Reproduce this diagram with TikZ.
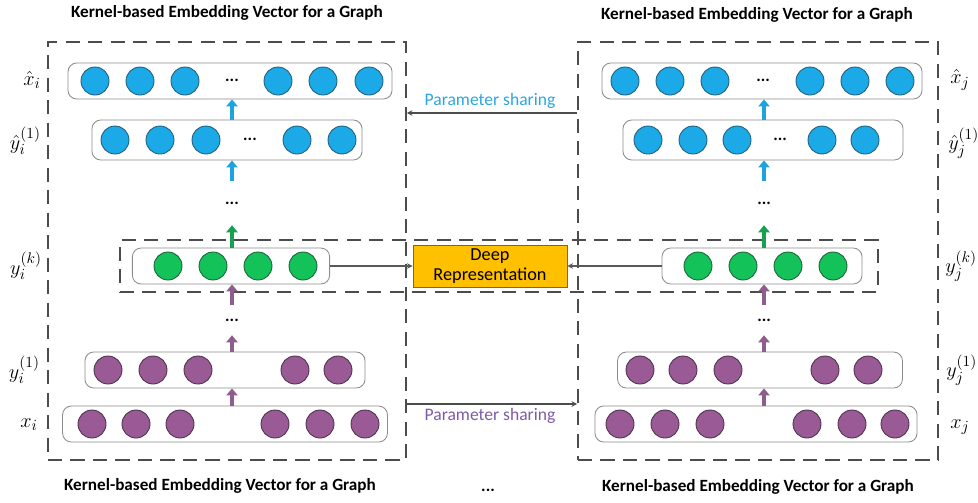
\documentclass[tikz,border=0pt]{standalone}
\usepackage[no-math]{fontspec}
\setmainfont{Carlito}
\usepackage{tikz}
\usetikzlibrary{arrows.meta}

\definecolor{nodeblue}{HTML}{1BA9E8}
\definecolor{lineblue}{HTML}{235C78}
\definecolor{nodegreen}{HTML}{14C25A}
\definecolor{linegreen}{HTML}{1E5E36}
\definecolor{nodepurple}{HTML}{9A5A96}
\definecolor{linepurple}{HTML}{4A3049}
\definecolor{arrowblue}{HTML}{1DA3E0}
\definecolor{arrowgreen}{HTML}{16A050}
\definecolor{arrowpurple}{HTML}{8E5D8C}
\definecolor{deeporange}{HTML}{FFC000}
\definecolor{sharepurple}{HTML}{7D5BA8}
\definecolor{shareblue}{HTML}{2CA6E0}

\begin{document}
\begin{tikzpicture}[x=0.025cm, y=-0.025cm,
    neuron/.style={circle, draw, line width=0.6pt, minimum size=0.7cm, inner sep=0pt},
    blueneuron/.style={neuron, fill=nodeblue, draw=lineblue},
    greenneuron/.style={neuron, fill=nodegreen, draw=linegreen},
    purpleneuron/.style={neuron, fill=nodepurple, draw=linepurple},
    rowbox/.style={rectangle, rounded corners=0.22cm, draw=black!45, fill=white, line width=0.6pt, minimum height=0.9cm, inner sep=0pt},
    graphbox/.style={rectangle, draw=black!70, line width=1.1pt, dash pattern=on 10pt off 6pt, inner sep=0pt},
    dotsnode/.style={inner sep=0pt, font=\bfseries\large},
    veclabel/.style={inner sep=0pt, font=\fontsize{15}{17}\selectfont},
    titletext/.style={font=\fontsize{12.2}{14}\selectfont\bfseries},
    uparrow/.style={line width=2.4pt, -{Triangle[width=8pt,length=5pt]}},
    sharearrow/.style={draw=black!70, line width=1.2pt, -{Stealth[length=4pt,width=4pt]}},
    deepline/.style={draw=black!65, line width=1.4pt, -{Stealth[length=4pt,width=4pt]}}
  ]
    \useasboundingbox (0,0) rectangle (978,502);

    % dashed boxes
    \node[graphbox, minimum width=8.95cm, minimum height=10.45cm] (box_i) at (227,251) {};
    \node[graphbox, minimum width=9cm, minimum height=10.45cm] (box_j) at (758,251) {};
    \node[graphbox, minimum width=18.95cm, minimum height=1.3cm] (box_deep) at (499,266) {};

    \node[titletext] (title_i_top) at (227,13) {Kernel-based Embedding Vector for a Graph};
    \node[titletext] (title_j_top) at (757,15) {Kernel-based Embedding Vector for a Graph};
    \node[titletext] (title_i_bot) at (220,486) {Kernel-based Embedding Vector for a Graph};
    \node[titletext] (title_j_bot) at (758,487) {Kernel-based Embedding Vector for a Graph};
    \node[dotsnode] (more_graphs) at (488,490) {...};

    % left graph
    \node[rowbox, minimum width=8.1cm] (xhat_i_row) at (230,81) {};
    \node[rowbox, minimum width=6.75cm, minimum height=1cm] (yhat_i_row) at (227,140) {};
    \node[rowbox, minimum width=4.93cm] (yk_i_row) at (231,266) {};
    \node[rowbox, minimum width=7cm] (y1_i_row) at (225,370) {};
    \node[rowbox, minimum width=8.12cm] (x_i_row) at (225,424) {};

    \node[blueneuron] (xhat_i_1) at (95,81) {};
    \node[blueneuron] (xhat_i_2) at (140,81) {};
    \node[blueneuron] (xhat_i_3) at (185,81) {};
    \node[dotsnode] (xhat_i_dots) at (232,80) {...};
    \node[blueneuron] (xhat_i_4) at (278,81) {};
    \node[blueneuron] (xhat_i_5) at (323,81) {};
    \node[blueneuron] (xhat_i_6) at (369,81) {};

    \node[blueneuron] (yhat_i_1) at (115,140) {};
    \node[blueneuron] (yhat_i_2) at (160,140) {};
    \node[blueneuron] (yhat_i_3) at (206,140) {};
    \node[dotsnode] (yhat_i_dots) at (250,139) {...};
    \node[blueneuron] (yhat_i_4) at (297,140) {};
    \node[blueneuron] (yhat_i_5) at (342,140) {};

    \node[greenneuron] (yk_i_1) at (168,266) {};
    \node[greenneuron] (yk_i_2) at (213,266) {};
    \node[greenneuron] (yk_i_3) at (258,266) {};
    \node[greenneuron] (yk_i_4) at (303,266) {};

    \node[purpleneuron] (y1_i_1) at (108,370) {};
    \node[purpleneuron] (y1_i_2) at (153,370) {};
    \node[purpleneuron] (y1_i_3) at (198,370) {};
    \node[purpleneuron] (y1_i_4) at (295,370) {};
    \node[purpleneuron] (y1_i_5) at (338,370) {};

    \node[purpleneuron] (x_i_1) at (92,424) {};
    \node[purpleneuron] (x_i_2) at (136,424) {};
    \node[purpleneuron] (x_i_3) at (180,424) {};
    \node[purpleneuron] (x_i_4) at (275,424) {};
    \node[purpleneuron] (x_i_5) at (320,424) {};
    \node[purpleneuron] (x_i_6) at (365,424) {};

    \node[dotsnode, minimum height=1.1cm] (dots_i_a) at (232,203) {...};
    \node[dotsnode, minimum height=0.75cm] (dots_i_b) at (232,320) {...};

    \node[veclabel, anchor=east] (xhat_i_label) at (41,80) {$\hat{x}_i$};
    \node[veclabel, anchor=east] (yhat_i_label) at (41,141) {$\hat{y}_i^{(1)}$};
    \node[veclabel, anchor=east] (yk_i_label) at (42,266) {$y_i^{(k)}$};
    \node[veclabel, anchor=east] (y1_i_label) at (40,370) {$y_i^{(1)}$};
    \node[veclabel, anchor=east] (x_i_label) at (38,425) {$x_i$};

    \draw[uparrow, arrowpurple] (x_i_row.north -| dots_i_b) -- (y1_i_row.south -| dots_i_b);
    \draw[uparrow, arrowpurple] (y1_i_row.north -| dots_i_b) -- (dots_i_b.south);
    \draw[uparrow, arrowpurple] (dots_i_b.north) -- (yk_i_row.south -| dots_i_b);
    \draw[uparrow, arrowgreen] (yk_i_row.north -| dots_i_a) -- (dots_i_a.south);
    \draw[uparrow, arrowblue] (dots_i_a.north) -- (yhat_i_row.south -| dots_i_a);
    \draw[uparrow, arrowblue] (yhat_i_row.north -| dots_i_a) -- (xhat_i_row.south -| dots_i_a);

    % right graph
    \node[rowbox, minimum width=8cm] (xhat_j_row) at (762,81) {};
    \node[rowbox, minimum width=7cm, minimum height=1cm] (yhat_j_row) at (763,140) {};
    \node[rowbox, minimum width=5cm] (yk_j_row) at (762,266) {};
    \node[rowbox, minimum width=7.12cm] (y1_j_row) at (760,370) {};
    \node[rowbox, minimum width=8.05cm] (x_j_row) at (756,424) {};

    \node[blueneuron] (xhat_j_1) at (625,81) {};
    \node[blueneuron] (xhat_j_2) at (670,81) {};
    \node[blueneuron] (xhat_j_3) at (715,81) {};
    \node[dotsnode] (xhat_j_dots) at (763,80) {...};
    \node[blueneuron] (xhat_j_4) at (810,81) {};
    \node[blueneuron] (xhat_j_5) at (855,81) {};
    \node[blueneuron] (xhat_j_6) at (900,81) {};

    \node[blueneuron] (yhat_j_1) at (648,140) {};
    \node[blueneuron] (yhat_j_2) at (693,140) {};
    \node[blueneuron] (yhat_j_3) at (737,140) {};
    \node[dotsnode] (yhat_j_dots) at (780,139) {...};
    \node[blueneuron] (yhat_j_4) at (822,140) {};
    \node[blueneuron] (yhat_j_5) at (865,140) {};

    \node[greenneuron] (yk_j_1) at (698,266) {};
    \node[greenneuron] (yk_j_2) at (743,266) {};
    \node[greenneuron] (yk_j_3) at (788,266) {};
    \node[greenneuron] (yk_j_4) at (833,266) {};

    \node[purpleneuron] (y1_j_1) at (640,370) {};
    \node[purpleneuron] (y1_j_2) at (683,370) {};
    \node[purpleneuron] (y1_j_3) at (728,370) {};
    \node[purpleneuron] (y1_j_4) at (825,370) {};
    \node[purpleneuron] (y1_j_5) at (868,370) {};

    \node[purpleneuron] (x_j_1) at (620,424) {};
    \node[purpleneuron] (x_j_2) at (665,424) {};
    \node[purpleneuron] (x_j_3) at (710,424) {};
    \node[purpleneuron] (x_j_4) at (807,424) {};
    \node[purpleneuron] (x_j_5) at (852,424) {};
    \node[purpleneuron] (x_j_6) at (895,424) {};

    \node[dotsnode, minimum height=1.1cm] (dots_j_a) at (764,203) {...};
    \node[dotsnode, minimum height=0.75cm] (dots_j_b) at (764,320) {...};

    \node[veclabel, anchor=west] (xhat_j_label) at (950,80) {$\hat{x}_j$};
    \node[veclabel, anchor=west] (yhat_j_label) at (948,143) {$\hat{y}_j^{(1)}$};
    \node[veclabel, anchor=west] (yk_j_label) at (945,266) {$y_j^{(k)}$};
    \node[veclabel, anchor=west] (y1_j_label) at (946,370) {$y_j^{(1)}$};
    \node[veclabel, anchor=west] (x_j_label) at (950,427) {$x_j$};

    \draw[uparrow, arrowpurple] (x_j_row.north -| dots_j_b) -- (y1_j_row.south -| dots_j_b);
    \draw[uparrow, arrowpurple] (y1_j_row.north -| dots_j_b) -- (dots_j_b.south);
    \draw[uparrow, arrowpurple] (dots_j_b.north) -- (yk_j_row.south -| dots_j_b);
    \draw[uparrow, arrowgreen] (yk_j_row.north -| dots_j_a) -- (dots_j_a.south);
    \draw[uparrow, arrowblue] (dots_j_a.north) -- (yhat_j_row.south -| dots_j_a);
    \draw[uparrow, arrowblue] (yhat_j_row.north -| dots_j_a) -- (xhat_j_row.south -| dots_j_a);

    % shared parts
    \node[draw=black!60, fill=deeporange, line width=0.6pt, minimum width=3.85cm, minimum height=1.05cm, inner sep=0pt, align=center, font=\fontsize{13}{14}\selectfont] (deep) at (490,266) {Deep\\Representation};
    \draw[deepline] (yk_i_row.east) -- (deep.west);
    \draw[deepline] (yk_j_row.west) -- (deep.east);

    \node[anchor=south, inner sep=3pt, text=shareblue, font=\fontsize{12.5}{14}\selectfont] (share_top) at (490,113) {Parameter sharing};
    \node[anchor=north, inner sep=3pt, text=sharepurple, font=\fontsize{12.5}{14}\selectfont] (share_bot) at (490,404) {Parameter sharing};
    \draw[sharearrow] (box_j.west |- share_top.south) -- (box_i.east |- share_top.south);
    \draw[sharearrow] (box_i.east |- share_bot.north) -- (box_j.west |- share_bot.north);

  \end{tikzpicture}
\end{document}
